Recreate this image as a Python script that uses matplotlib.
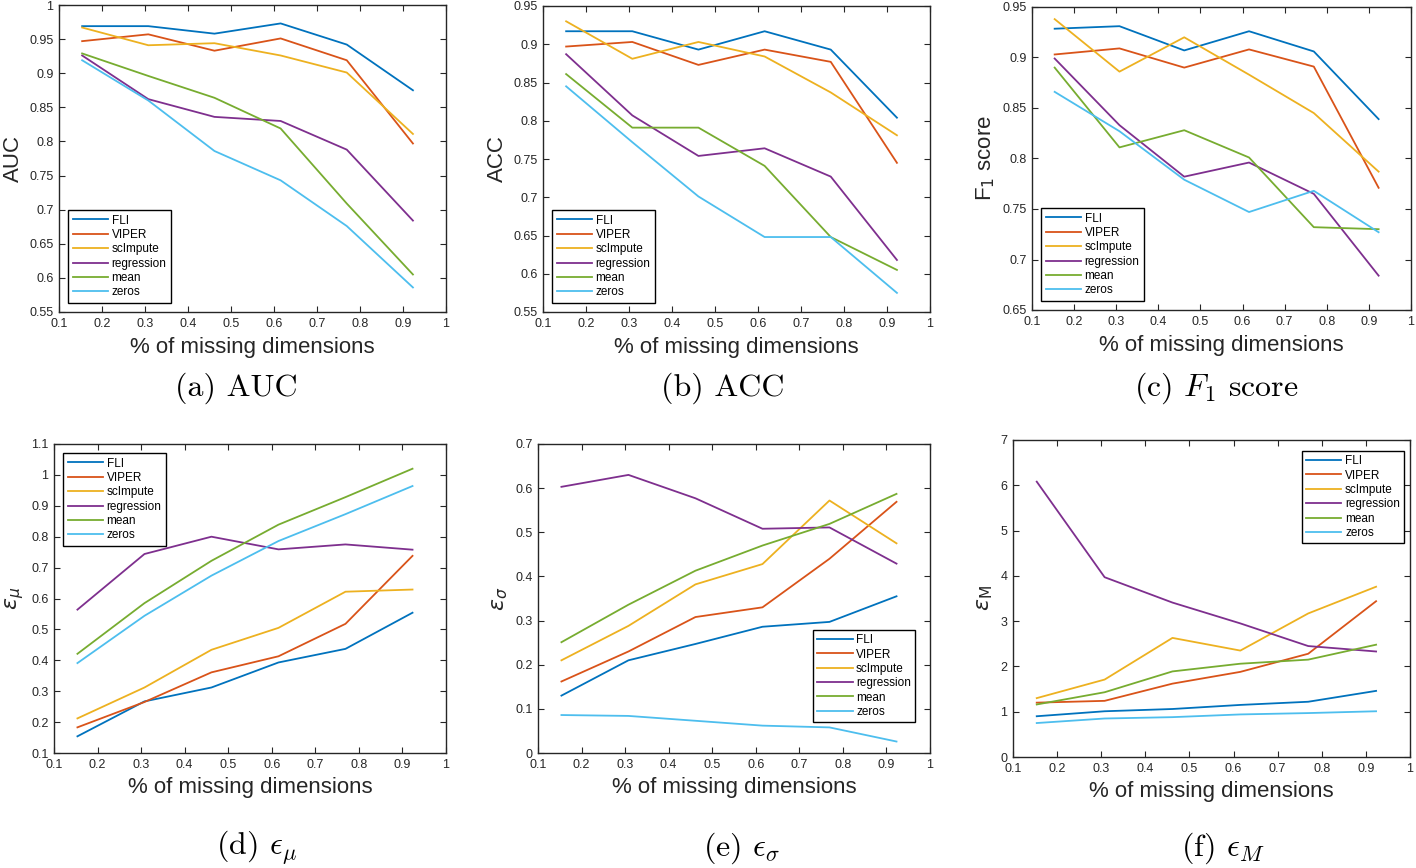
import matplotlib
matplotlib.use('Agg')
import matplotlib.pyplot as plt

plt.rcParams['font.family'] = ['Liberation Sans', 'DejaVu Sans']

# fraction of missing dimensions
missing = [0.1538, 0.3077, 0.4615, 0.6154, 0.7692, 0.9231]
methods = ['FLI', 'VIPER', 'scImpute', 'regression', 'mean', 'zeros']
colors = ['#0072BD', '#D95319', '#EDB120', '#7E2F8E', '#77AC30', '#4DBEEE']

auc = [
    [0.969, 0.969, 0.958, 0.973, 0.942, 0.875],
    [0.947, 0.957, 0.933, 0.951, 0.919, 0.797],
    [0.967, 0.941, 0.944, 0.926, 0.901, 0.811],
    [0.926, 0.862, 0.836, 0.830, 0.788, 0.684],
    [0.929, 0.896, 0.864, 0.819, 0.709, 0.605],
    [0.919, 0.860, 0.786, 0.743, 0.676, 0.586],
]
acc = [
    [0.917, 0.917, 0.893, 0.917, 0.893, 0.804],
    [0.897, 0.903, 0.873, 0.893, 0.877, 0.745],
    [0.930, 0.881, 0.903, 0.884, 0.837, 0.781],
    [0.887, 0.807, 0.754, 0.764, 0.727, 0.618],
    [0.861, 0.791, 0.791, 0.741, 0.648, 0.605],
    [0.845, 0.772, 0.701, 0.648, 0.648, 0.575],
]
f1 = [
    [0.9285, 0.931, 0.907, 0.926, 0.906, 0.839],
    [0.903, 0.909, 0.890, 0.908, 0.891, 0.771],
    [0.938, 0.886, 0.920, 0.883, 0.845, 0.787],
    [0.899, 0.833, 0.782, 0.796, 0.765, 0.684],
    [0.890, 0.811, 0.828, 0.801, 0.732, 0.730],
    [0.866, 0.827, 0.779, 0.747, 0.768, 0.727],
]
eps_mu = [
    [0.154, 0.267, 0.312, 0.393, 0.437, 0.554],
    [0.183, 0.265, 0.361, 0.413, 0.518, 0.738],
    [0.212, 0.312, 0.434, 0.505, 0.622, 0.629],
    [0.564, 0.744, 0.800, 0.759, 0.775, 0.758],
    [0.421, 0.585, 0.722, 0.839, 0.928, 1.020],
    [0.391, 0.544, 0.674, 0.786, 0.873, 0.964],
]
eps_sigma = [
    [0.130, 0.210, 0.247, 0.286, 0.297, 0.355],
    [0.162, 0.230, 0.308, 0.330, 0.440, 0.569],
    [0.210, 0.288, 0.382, 0.428, 0.572, 0.475],
    [0.603, 0.630, 0.577, 0.508, 0.511, 0.429],
    [0.251, 0.336, 0.413, 0.470, 0.519, 0.587],
    [0.086, 0.084, 0.073, 0.062, 0.058, 0.026],
]
eps_m = [
    [0.90, 1.01, 1.06, 1.15, 1.22, 1.46],
    [1.20, 1.24, 1.62, 1.88, 2.28, 3.44],
    [1.30, 1.71, 2.63, 2.35, 3.17, 3.76],
    [6.08, 3.97, 3.41, 2.95, 2.45, 2.33],
    [1.16, 1.43, 1.89, 2.06, 2.15, 2.48],
    [0.75, 0.85, 0.88, 0.94, 0.97, 1.01],
]

W, H = 1416, 868


def box(l, t, r, b):
    return [l / W, 1 - b / H, (r - l) / W, (b - t) / H]


panels = [
    dict(data=auc, pos=box(59, 5, 446, 312), ylim=(0.55, 1), step=0.05,
         ylabel='AUC', cap='(a) AUC', leg=('lower left', None), cap_xy=(236, 388)),
    dict(data=acc, pos=box(543, 6, 930, 312), ylim=(0.55, 0.95), step=0.05,
         ylabel='ACC', cap='(b) ACC', leg=('lower left', None), cap_xy=(723, 388)),
    dict(data=f1, pos=box(1032, 7, 1411, 310), ylim=(0.65, 0.95), step=0.05,
         ylabel='F$_1$ score', cap='(c) $F_1$ score', leg=('lower left', None), cap_xy=(1216, 388)),
    dict(data=eps_mu, pos=box(54, 444, 446, 753), ylim=(0.1, 1.1), step=0.1,
         ylabel=r'$\epsilon_{\mu}$', cap=r'(d) $\epsilon_\mu$', leg=('upper left', None), cap_xy=(256, 848)),
    dict(data=eps_sigma, pos=box(538, 444, 930, 753), ylim=(0, 0.7), step=0.1,
         ylabel=r'$\epsilon_{\sigma}$', cap=r'(e) $\epsilon_\sigma$', leg=('lower right', (0.962, 0.10)), cap_xy=(742, 848)),
    dict(data=eps_m, pos=box(1013, 440, 1410, 757), ylim=(0, 7), step=1,
         ylabel=r'$\epsilon_{\mathrm{M}}$', cap=r'(f) $\epsilon_M$', leg=('upper right', (0.985, 0.965)), cap_xy=(1223, 848)),
]

fig = plt.figure(figsize=(W / 100, H / 100), dpi=100)
dark = '#262626'

for p in panels:
    ax = fig.add_axes(p['pos'])
    for vals, name, c in zip(p['data'], methods, colors):
        ax.plot(missing, vals, color=c, lw=1.3, label=name)
    ax.set_xlim(0.1, 1)
    ax.set_ylim(*p['ylim'])
    lo, hi = p['ylim']
    n = int(round((hi - lo) / p['step']))
    ticks = [round(lo + i * p['step'], 3) for i in range(n + 1)]
    ax.set_yticks(ticks)
    ax.set_yticklabels(['%g' % t for t in ticks])
    xt = [round(0.1 * i, 1) for i in range(1, 11)]
    ax.set_xticks(xt)
    ax.set_xticklabels(['%g' % t for t in xt])
    ax.tick_params(direction='in', top=True, right=True, length=4, width=0.8,
                   labelsize=9, colors=dark, pad=4)
    for s in ax.spines.values():
        s.set_color(dark)
        s.set_linewidth(1.0)
    ax.set_xlabel('% of missing dimensions', fontsize=16, color=dark, labelpad=5)
    ax.set_ylabel(p['ylabel'], fontsize=16, color=dark, labelpad=4,
                  math_fontfamily='dejavusans')
    loc, anchor = p['leg']
    kw = dict(fontsize=8.5, handlelength=3.0, handletextpad=0.3,
              labelspacing=0.2, borderpad=0.35, fancybox=False,
              edgecolor='black', framealpha=1)
    if anchor is None:
        leg = ax.legend(loc=loc, borderaxespad=0.8, **kw)
    else:
        leg = ax.legend(loc=loc, bbox_to_anchor=anchor, borderaxespad=0, **kw)
    leg.get_frame().set_linewidth(1.0)
    cx, cy = p['cap_xy']
    fig.text(cx / W, 1 - cy / H, p['cap'], ha='center', va='center',
             fontsize=23, family='cmr10', math_fontfamily='cm')

fig.savefig('out.png', dpi=100)
